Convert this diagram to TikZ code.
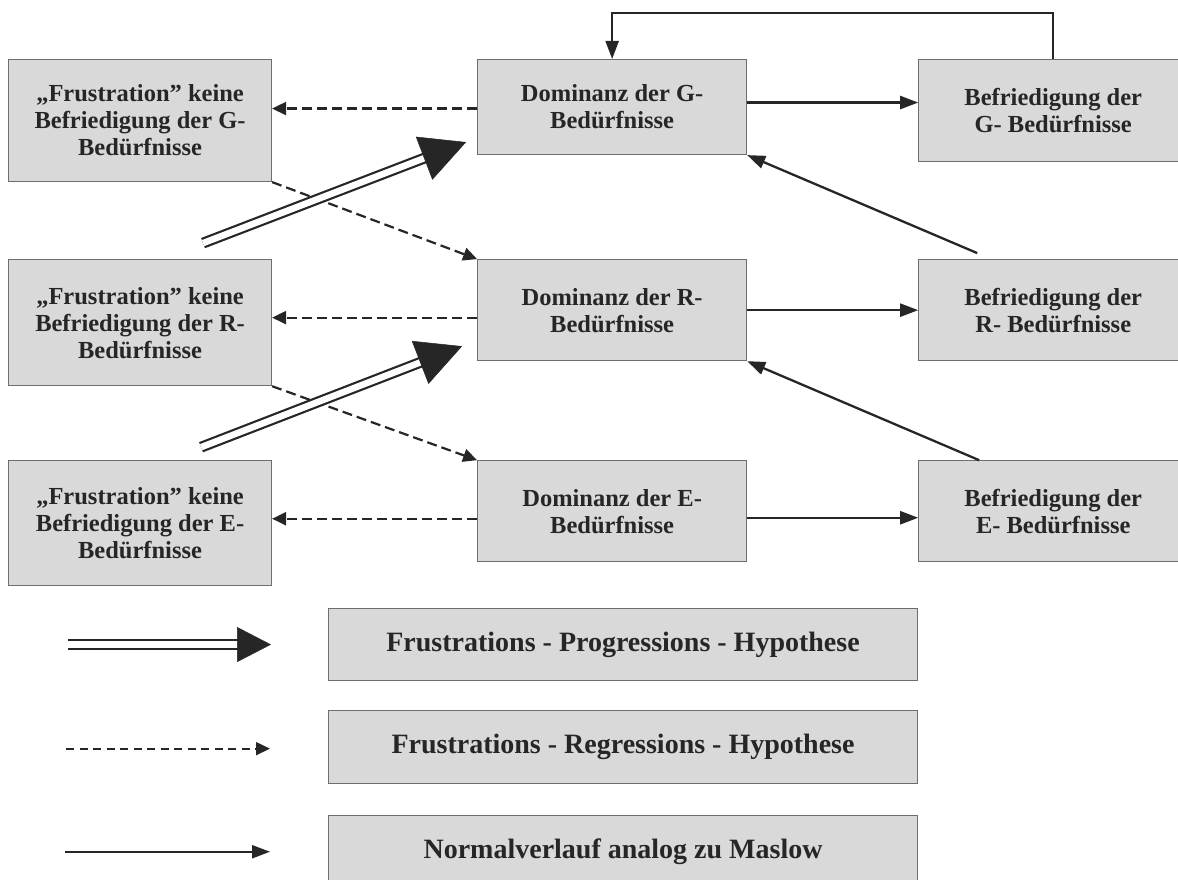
\documentclass[tikz,border=0pt]{standalone}
\usepackage{fontspec}
\setmainfont{Liberation Serif}
\usetikzlibrary{positioning,calc,arrows.meta}
\definecolor{boxfill}{HTML}{D9D9D9}
\definecolor{boxline}{HTML}{6E6E6E}
\definecolor{arr}{HTML}{262626}

\begin{document}
\begin{tikzpicture}[
    x=1pt,y=1pt,
    font=\bfseries\fontsize{24.5}{27}\selectfont,
    text=arr
  ]
\useasboundingbox (0,0) rectangle (1178,-880);

\tikzstyle{bigbox}=[draw=boxline,fill=boxfill,line width=1.1pt,align=center,inner sep=0pt];
\tikzstyle{frbox}=[bigbox,minimum width=263pt];
\tikzstyle{dombox}=[bigbox,minimum width=269pt];
\tikzstyle{legbox}=[bigbox,minimum width=589pt,font=\bfseries\fontsize{28}{32}\selectfont];

\tikzstyle{norm}=[draw=arr,line width=2.3pt,-{Triangle[length=18pt,width=13pt]}];
\tikzstyle{regr}=[draw=arr,line width=2.2pt,dash pattern=on 10pt off 5pt,-{Triangle[length=14pt,width=13pt]}];
\tikzstyle{prog}=[draw=arr,double,double distance=6.5pt,line width=2.2pt];
\tikzstyle{progtip}=[draw=arr,fill=arr,line width=0.5pt,-{Triangle[length=45pt,width=46pt]}];

% Frustration
\node[frbox,anchor=north west,minimum height=122pt] (frg) at (8,-59) {„Frustration” keine\\Befriedigung der G-\\Bedürfnisse};
\node[frbox,below=77pt of frg,minimum height=126pt] (frr) {„Frustration” keine\\Befriedigung der R-\\Bedürfnisse};
\node[frbox,below=74pt of frr,minimum height=125pt] (fre) {„Frustration” keine\\Befriedigung der E-\\Bedürfnisse};

% Dominanz
\node[dombox,right=205pt of frg.north east,anchor=north west,minimum height=95pt] (domg) {Dominanz der G-\\Bedürfnisse};
\node[dombox,right=205pt of frr.north east,anchor=north west,minimum height=101pt] (domr) {Dominanz der R-\\Bedürfnisse};
\node[dombox,right=205pt of fre.north east,anchor=north west,minimum height=101pt] (dome) {Dominanz der E-\\Bedürfnisse};

% Befriedigung
\node[dombox,right=171pt of domg.north east,anchor=north west,minimum height=102pt] (befg) {Befriedigung der\\G- Bedürfnisse};
\node[dombox,right=171pt of domr.north east,anchor=north west,minimum height=101pt] (befr) {Befriedigung der\\R- Bedürfnisse};
\node[dombox,right=171pt of dome.north east,anchor=north west,minimum height=101pt] (befe) {Befriedigung der\\E- Bedürfnisse};

% Legende
\node[legbox,anchor=north west,minimum height=72pt] (legprog) at (328,-608) {Frustrations - Progressions - Hypothese};
\node[legbox,below=29pt of legprog,minimum height=73pt] (legreg) {Frustrations - Regressions - Hypothese};
\node[legbox,below=31pt of legreg,minimum height=72pt] (legnorm) {Normalverlauf analog zu Maslow};

% Regression
\draw[regr] ([yshift=-1.5pt]domg.west) -- ([yshift=-1.5pt]domg.west -| frg.east);
\draw[regr] ([yshift=-7.5pt]domr.west) -- ([yshift=-7.5pt]domr.west -| frr.east);
\draw[regr] ([yshift=-7.5pt]dome.west) -- ([yshift=-7.5pt]dome.west -| fre.east);
\draw[regr] (frg.south east) -- (domr.north west);
\draw[regr] (frr.south east) -- (dome.north west);

% Normalverlauf
\draw[norm] ([yshift=4.5pt]domg.east) -- ([yshift=4.5pt]domg.east -| befg.west);
\draw[norm] (domr.east) -- (domr.east -| befr.west);
\draw[norm] ([yshift=-6.5pt]dome.east) -- ([yshift=-6.5pt]dome.east -| befe.west);
\coordinate (auxr) at ($ (befr.north west) + (59pt,6pt) $);
\coordinate (auxe) at ($ (befe.north west) + (61pt,0) $);
\draw[norm] (auxr) -- (domg.south east);
\draw[norm] (auxe) -- (domr.south east);
\draw[norm] (befg.north) -- ++(0,46pt) -| (domg.north);

% Progression
\coordinate (pgs) at ($ (frr.north) + (63pt,16pt) $);
\coordinate (pge) at ($ (domg.south west) + (-11pt,13pt) $);
\coordinate (prs) at ($ (fre.north) + (61pt,13pt) $);
\coordinate (pre) at ($ (domr.south west) + (-15pt,15pt) $);
\draw[prog,shorten >=42pt] (pgs) -- (pge);
\draw[progtip] ($ (pgs)!0.9!(pge) $) -- (pge);
\draw[prog,shorten >=42pt] (prs) -- (pre);
\draw[progtip] ($ (prs)!0.9!(pre) $) -- (pre);

% Legende Pfeile
\coordinate (lgp1) at ($ (legprog.west) - (260pt,0) $);
\coordinate (lgp2) at ($ (legprog.west) - (57pt,0) $);
\draw[prog,shorten >=32pt] (lgp1) -- (lgp2);
\draw[progtip,-{Triangle[length=34pt,width=35pt]}] ($ (lgp1)!0.9!(lgp2) $) -- (lgp2);

\coordinate (lgr1) at ($ (legreg.west) - (262pt,1.5pt) $);
\coordinate (lgr2) at ($ (legreg.west) - (58pt,1.5pt) $);
\draw[regr,line width=1.8pt,dash pattern=on 8pt off 5.5pt] (lgr1) -- (lgr2);

\coordinate (lgn1) at ($ (legnorm.west) - (263pt,0) $);
\coordinate (lgn2) at ($ (legnorm.west) - (58pt,0) $);
\draw[norm] (lgn1) -- (lgn2);

\end{tikzpicture}
\end{document}
